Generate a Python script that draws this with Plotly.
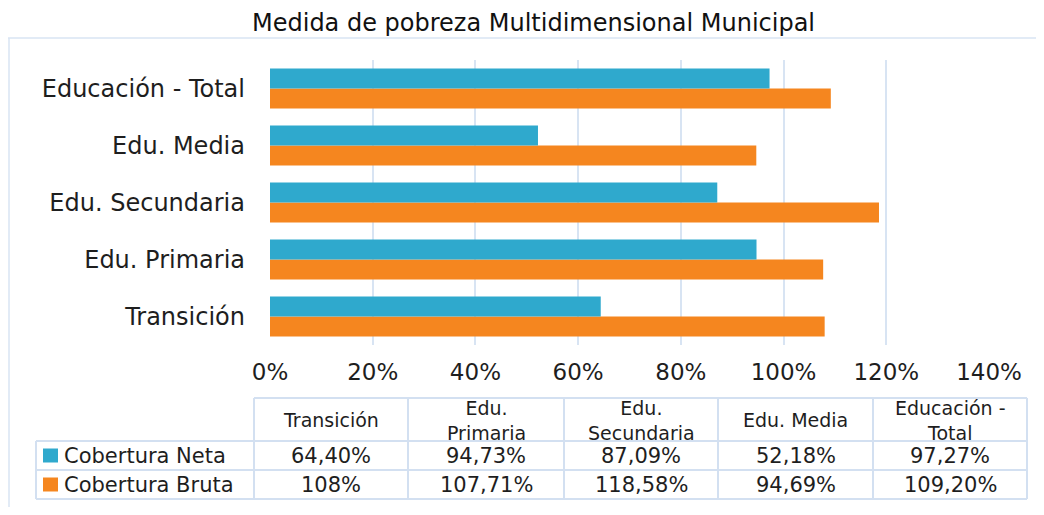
import plotly.graph_objects as go

# ---------------- data ----------------
categories = ["Transición", "Edu. Primaria", "Edu. Secundaria", "Edu. Media", "Educación - Total"]
table_headers = ["Transición", "Edu.<br>Primaria", "Edu.<br>Secundaria", "Edu. Media", "Educación -<br>Total"]
series_names = ["Cobertura Neta", "Cobertura Bruta"]
cobertura_neta = [64.40, 94.73, 87.09, 52.18, 97.27]
cobertura_bruta = [108.0, 107.71, 118.58, 94.69, 109.20]
x_ticks = [0, 20, 40, 60, 80, 100, 120, 140]
x_tick_labels = ["0%", "20%", "40%", "60%", "80%", "100%", "120%", "140%"]
title = "Medida de pobreza Multidimensional Municipal"

# ---------------- style ----------------
# page body has an 8px margin, so the figure is 16px smaller than the window
OFF = 8
W, H = 1044 - 2 * OFF, 515 - 2 * OFF
FONT = "DejaVu Sans"
TXT = "#1e1e1e"
GRID = "#d8e4f3"
BLUE = "#2fa9cd"
ORANGE = "#f5861f"


def px(x):
    return min(max((x - OFF) / W, 0.0), 1.0)


def py(y):
    return min(max(1 - (y - OFF) / H, 0.0), 1.0)


def fmt(v):
    if float(v).is_integer():
        return f"{int(v)}%"
    return f"{v:.2f}".replace(".", ",") + "%"


fig = go.Figure()
fig.add_trace(go.Bar(y=categories, x=cobertura_bruta, name=series_names[1], orientation="h",
                     marker=dict(color=ORANGE, line=dict(width=0)), showlegend=False,
                     hovertemplate="%{y}: %{x:.2f}%<extra>Cobertura Bruta</extra>"))
fig.add_trace(go.Bar(y=categories, x=cobertura_neta, name=series_names[0], orientation="h",
                     marker=dict(color=BLUE, line=dict(width=0)), showlegend=False,
                     hovertemplate="%{y}: %{x:.2f}%<extra>Cobertura Neta</extra>"))

fig.update_layout(
    width=W, height=H,
    margin=dict(l=0, r=0, t=0, b=0, pad=0, autoexpand=False),
    paper_bgcolor="white", plot_bgcolor="white",
    barmode="group", bargap=0.3, bargroupgap=0,
    font=dict(family=FONT, color=TXT),
    xaxis=dict(domain=[px(270), px(989)], range=[0, 140], tickvals=x_ticks, ticktext=x_tick_labels,
               showgrid=True, gridcolor=GRID, gridwidth=1.5, automargin=False,
               zeroline=False, showline=False, ticks="", ticklabelstandoff=11,
               tickfont=dict(family=FONT, size=23, color=TXT), fixedrange=True),
    yaxis=dict(domain=[py(345), py(60)], showgrid=False, zeroline=False, showline=False,
               ticks="", ticklabelstandoff=24, automargin=False,
               tickfont=dict(family=FONT, size=24, color=TXT), fixedrange=True),
)

shapes = []
# outer frame (top and left edges; the others run off the picture)
fl = dict(color=GRID, width=1.5)
shapes.append(dict(type="line", xref="paper", yref="paper", x0=px(8), y0=py(38), x1=1.0, y1=py(38), line=fl, layer="below"))
shapes.append(dict(type="line", xref="paper", yref="paper", x0=px(9), y0=py(38), x1=px(9), y1=0.0, line=fl, layer="below"))

# table grid
col_x = [254, 408, 564, 718, 873, 1027]
row_y = [398, 441, 470, 499]
tl = dict(color="#d3e0f1", width=2)
shapes.append(dict(type="line", xref="paper", yref="paper", x0=px(254), x1=px(1027), y0=py(398), y1=py(398), line=tl))
for yy in row_y[1:]:
    shapes.append(dict(type="line", xref="paper", yref="paper", x0=px(36), x1=px(1027), y0=py(yy), y1=py(yy), line=tl))
for xx in col_x:
    shapes.append(dict(type="line", xref="paper", yref="paper", x0=px(xx), x1=px(xx), y0=py(398), y1=py(499), line=tl))
shapes.append(dict(type="line", xref="paper", yref="paper", x0=px(36), x1=px(36), y0=py(441), y1=py(499), line=tl))

annotations = []
annotations.append(dict(text=title, xref="paper", yref="paper", x=px(533), y=1.0, xanchor="center",
                        yanchor="top", showarrow=False, borderpad=0,
                        font=dict(family=FONT, size=24, color="#111111")))

# header
for i, h in enumerate(table_headers):
    cx = (col_x[i] + col_x[i + 1]) / 2
    annotations.append(dict(text=h, xref="paper", yref="paper", x=px(cx), y=py(420), xanchor="center",
                            yanchor="middle", showarrow=False, align="center",
                            font=dict(family=FONT, size=19, color=TXT)))

rows = [(series_names[0], cobertura_neta, BLUE), (series_names[1], cobertura_bruta, ORANGE)]
for r, (name, vals, col) in enumerate(rows):
    cy = (row_y[r + 1] + row_y[r + 2]) / 2
    shapes.append(dict(type="rect", xref="paper", yref="paper", x0=px(43), x1=px(58), y0=py(cy - 7), y1=py(cy + 7),
                       fillcolor=col, line=dict(width=0)))
    annotations.append(dict(text=name, xref="paper", yref="paper", x=px(62), y=py(cy), xanchor="left",
                            yanchor="middle", showarrow=False, font=dict(family=FONT, size=21, color=TXT)))
    for i, v in enumerate(vals):
        cx = (col_x[i] + col_x[i + 1]) / 2
        annotations.append(dict(text=fmt(v), xref="paper", yref="paper", x=px(cx), y=py(cy), xanchor="center",
                                yanchor="middle", showarrow=False, font=dict(family=FONT, size=21, color=TXT)))

fig.update_layout(shapes=shapes, annotations=annotations)
fig.write_html("out.html")
